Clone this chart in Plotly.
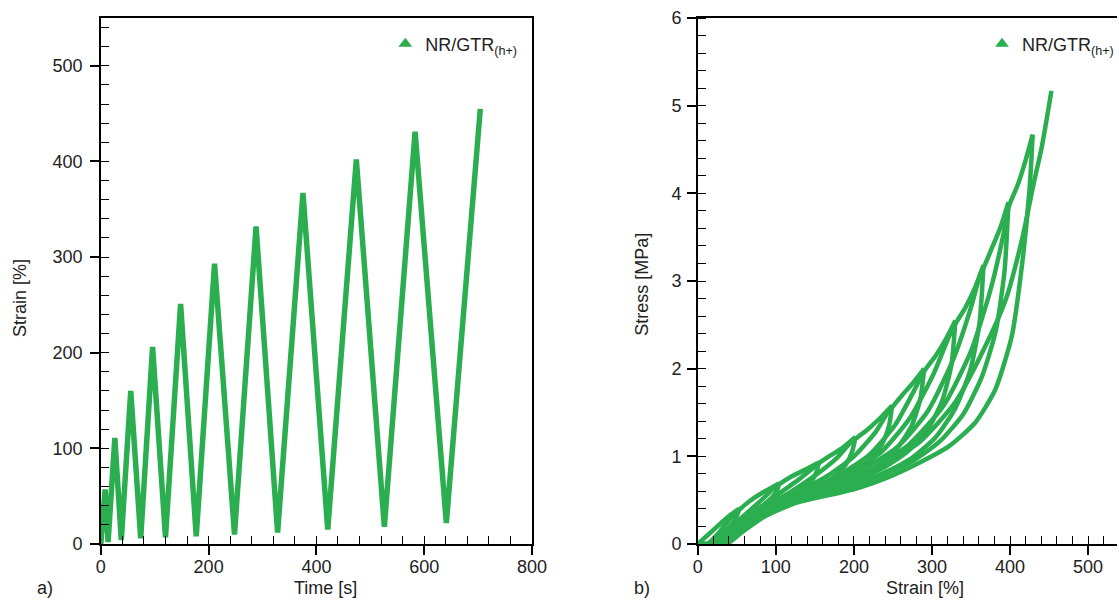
import plotly.graph_objects as go

GREEN = "#2bae4f"
FONT = "Arial, Liberation Sans, sans-serif"
W, H = 1119, 600

# ---------------- a) Strain vs time ----------------
time_s = [0, 8, 13.5, 26, 38, 55.5, 74, 96, 120, 148, 177, 211, 248, 288,
          328, 375, 421, 474, 526, 583, 641, 704]
strain_time_pct = [0, 57, 2, 111, 4, 160, 6, 206, 7, 251, 8, 293, 10, 332,
                   12, 367, 15, 402, 18, 431, 22, 455]

# ---------------- b) Stress vs strain (loading / unloading per cycle) -------
loading_strain = [
    [0, 10, 20, 30, 40, 53],
    [2, 12, 20, 30, 40, 48, 53, 65, 80, 92, 104],
    [4, 16, 28, 45, 65, 85, 98, 104, 120, 138, 155],
    [6, 20, 35, 55, 80, 105, 130, 148, 155, 170, 186, 202],
    [7, 23, 40, 62, 90, 120, 150, 178, 195, 202, 218, 234, 249],
    [8, 25, 43, 66, 95, 130, 165, 200, 228, 244, 249, 262, 276, 290],
    [10, 27, 45, 70, 100, 140, 180, 220, 253, 276, 290, 305, 318, 330],
    [12, 29, 48, 74, 105, 145, 190, 235, 272, 302, 322, 330, 343, 355, 366],
    [15, 31, 50, 78, 110, 155, 205, 255, 295, 327, 350, 362, 366, 377, 388, 398],
    [18, 34, 53, 82, 118, 165, 220, 270, 315, 350, 375, 392, 398, 410, 420, 429],
    [22, 37, 56, 85, 125, 175, 230, 285, 330, 368, 395, 416, 430, 440, 447, 453],
]
loading_stress = [
    [0, 0.08, 0.16, 0.24, 0.32, 0.40],
    [0, 0, 0.06, 0.16, 0.27, 0.35, 0.39, 0.48, 0.57, 0.63, 0.69],
    [0, 0, 0.08, 0.21, 0.37, 0.53, 0.64, 0.68, 0.77, 0.85, 0.93],
    [0, 0, 0.10, 0.25, 0.42, 0.58, 0.74, 0.87, 0.92, 1.01, 1.10, 1.22],
    [0, 0, 0.11, 0.27, 0.44, 0.60, 0.78, 0.98, 1.15, 1.20, 1.31, 1.44, 1.58],
    [0, 0, 0.11, 0.27, 0.44, 0.60, 0.77, 1.00, 1.28, 1.51, 1.56, 1.70, 1.84, 2.00],
    [0, 0, 0.11, 0.28, 0.44, 0.60, 0.78, 1.02, 1.36, 1.73, 1.97, 2.15, 2.34, 2.55],
    [0, 0, 0.12, 0.28, 0.45, 0.61, 0.79, 1.05, 1.44, 1.94, 2.37, 2.51, 2.70, 2.92, 3.18],
    [0, 0, 0.12, 0.29, 0.45, 0.62, 0.82, 1.10, 1.52, 2.10, 2.70, 3.08, 3.15, 3.38, 3.62, 3.90],
    [0, 0, 0.13, 0.30, 0.46, 0.63, 0.84, 1.13, 1.58, 2.20, 2.90, 3.55, 3.84, 4.10, 4.38, 4.67],
    [0, 0, 0.13, 0.31, 0.47, 0.64, 0.86, 1.17, 1.62, 2.25, 2.80, 3.50, 4.10, 4.50, 4.85, 5.17],
]
unloading_strain = [
    [53, 51, 47, 40, 30, 20, 12, 2],
    [104, 102, 97, 88, 75, 60, 45, 30, 16, 4],
    [155, 152, 145, 132, 115, 95, 75, 57, 40, 20, 6],
    [202, 198, 190, 175, 155, 130, 105, 80, 60, 42, 23, 7],
    [249, 245, 236, 220, 198, 170, 140, 110, 82, 60, 43, 25, 8],
    [290, 285, 274, 256, 232, 203, 170, 137, 105, 80, 58, 43, 27, 10],
    [330, 325, 313, 294, 268, 236, 200, 163, 130, 101, 78, 57, 42, 29, 12],
    [366, 361, 349, 330, 305, 274, 238, 200, 160, 127, 100, 78, 57, 43, 31, 15],
    [398, 393, 382, 364, 340, 310, 276, 240, 200, 160, 125, 99, 78, 57, 43, 34, 18],
    [429, 425, 415, 402, 381, 355, 321, 278, 249, 202, 159, 125, 99, 82, 61, 45, 37, 22],
]
unloading_stress = [
    [0.40, 0.34, 0.27, 0.19, 0.10, 0.03, 0, 0],
    [0.69, 0.62, 0.55, 0.47, 0.38, 0.27, 0.15, 0.05, 0, 0],
    [0.93, 0.82, 0.71, 0.61, 0.52, 0.43, 0.32, 0.19, 0.07, 0, 0],
    [1.22, 1.06, 0.91, 0.77, 0.66, 0.56, 0.46, 0.35, 0.22, 0.08, 0, 0],
    [1.58, 1.35, 1.14, 0.95, 0.80, 0.67, 0.57, 0.47, 0.35, 0.21, 0.07, 0, 0],
    [2.00, 1.65, 1.35, 1.10, 0.90, 0.75, 0.63, 0.53, 0.43, 0.33, 0.19, 0.06, 0, 0],
    [2.55, 2.05, 1.63, 1.30, 1.05, 0.86, 0.72, 0.61, 0.52, 0.43, 0.33, 0.18, 0.05, 0, 0],
    [3.18, 2.53, 1.98, 1.55, 1.22, 0.98, 0.81, 0.68, 0.58, 0.49, 0.41, 0.31, 0.17, 0.05, 0, 0],
    [3.90, 3.12, 2.44, 1.91, 1.48, 1.17, 0.95, 0.80, 0.67, 0.57, 0.48, 0.40, 0.31, 0.16, 0.04, 0, 0],
    [4.67, 4.05, 3.16, 2.36, 1.76, 1.38, 1.11, 0.90, 0.78, 0.63, 0.54, 0.47, 0.41, 0.35, 0.23, 0.09, 0, 0],
]

series_name = "NR/GTR<sub>(h+)</sub>"
x_ticks_a = [0, 200, 400, 600, 800]
y_ticks_a = [0, 100, 200, 300, 400, 500]
x_ticks_b = [0, 100, 200, 300, 400, 500]
y_ticks_b = [0, 1, 2, 3, 4, 5, 6]

fig = go.Figure()

# a) strain history
fig.add_trace(go.Scatter(x=time_s, y=strain_time_pct, mode="lines",
                         line=dict(color=GREEN, width=5.5), showlegend=False,
                         xaxis="x", yaxis="y"))
fig.add_trace(go.Scatter(x=[None], y=[None], mode="markers", name=series_name,
                         marker=dict(symbol="triangle-up", size=12, color=GREEN),
                         xaxis="x", yaxis="y", legend="legend"))

# b) hysteresis loops
for k in range(len(loading_strain)):
    fig.add_trace(go.Scatter(x=loading_strain[k], y=loading_stress[k], mode="lines",
                             line=dict(color=GREEN, width=4.5, shape="spline", smoothing=0.6),
                             showlegend=False, xaxis="x2", yaxis="y2"))
    if k < len(unloading_strain):
        fig.add_trace(go.Scatter(x=unloading_strain[k], y=unloading_stress[k], mode="lines",
                                 line=dict(color=GREEN, width=4.5, shape="spline", smoothing=0.6),
                                 showlegend=False, xaxis="x2", yaxis="y2"))
fig.add_trace(go.Scatter(x=[None], y=[None], mode="markers", name=series_name,
                         marker=dict(symbol="triangle-up", size=12, color=GREEN),
                         xaxis="x2", yaxis="y2", legend="legend2"))

ydom = [56 / H, 582 / H]
common = dict(showgrid=False, zeroline=False, showline=True, linecolor="black",
              linewidth=1.5, ticks="outside", ticklen=9, tickwidth=1.5,
              tickcolor="black", tickfont=dict(size=18, color="#222", family=FONT),
              fixedrange=True, automargin=False)
over = dict(showgrid=False, zeroline=False, showline=False, ticks="inside",
            ticklen=11, tickwidth=1.5, tickcolor="black", showticklabels=False,
            fixedrange=True, automargin=False)

fig.update_layout(
    template="none",
    width=W, height=H,
    margin=dict(l=0, r=0, t=0, b=0, pad=0),
    paper_bgcolor="white", plot_bgcolor="white",
    font=dict(family=FONT, size=18, color="#222"),
    xaxis=dict(domain=[101 / W, 533 / W], range=[0, 800], tickvals=x_ticks_a,
               anchor="y", mirror=True, ticklabelstandoff=-3,
               minor=dict(ticks="inside", ticklen=8, dtick=40, tick0=0,
                          tickcolor="black", tickwidth=1.2), **common),
    yaxis=dict(domain=ydom, range=[0, 550], tickvals=y_ticks_a, anchor="x",
               mirror=True, ticklabelstandoff=4,
               minor=dict(ticks="inside", ticklen=8, dtick=20, tick0=0,
                          tickcolor="black", tickwidth=1.2), **common),
    xaxis2=dict(domain=[699 / W, 1], range=[0, 537], tickvals=x_ticks_b,
                anchor="y2", mirror=True, ticklabelstandoff=-3,
                minor=dict(ticks="inside", ticklen=8, dtick=20, tick0=0,
                           tickcolor="black", tickwidth=1.2), **common),
    yaxis2=dict(domain=ydom, range=[0, 6], tickvals=y_ticks_b, anchor="x2",
                mirror=False, ticklabelstandoff=2,
                minor=dict(ticks="inside", ticklen=8, dtick=0.2, tick0=0,
                           tickcolor="black", tickwidth=1.2), **common),
    xaxis3=dict(overlaying="x", anchor="y", range=[0, 800], tickvals=x_ticks_a, **over),
    yaxis3=dict(overlaying="y", anchor="x", range=[0, 550], tickvals=y_ticks_a, **over),
    xaxis4=dict(overlaying="x2", anchor="y2", range=[0, 537], tickvals=x_ticks_b, **over),
    yaxis4=dict(overlaying="y2", anchor="x2", range=[0, 6], tickvals=y_ticks_b, **over),
    legend=dict(x=386 / W, y=1 - 44 / H, xanchor="left", yanchor="middle",
                bgcolor="rgba(0,0,0,0)", font=dict(size=18, color="#222")),
    legend2=dict(x=984 / W, y=1 - 44 / H, xanchor="left", yanchor="middle",
                 bgcolor="rgba(0,0,0,0)", font=dict(size=18, color="#222")),
    annotations=[
        dict(text="Time [s]", x=326 / W, y=0, xref="paper", yref="paper",
             showarrow=False, xanchor="center", yanchor="bottom", font=dict(size=18)),
        dict(text="Strain [%]", x=927 / W, y=0, xref="paper", yref="paper",
             showarrow=False, xanchor="center", yanchor="bottom", font=dict(size=18)),
        dict(text="a)", x=45 / W, y=0, xref="paper", yref="paper",
             showarrow=False, xanchor="center", yanchor="bottom", font=dict(size=18)),
        dict(text="b)", x=643 / W, y=0, xref="paper", yref="paper",
             showarrow=False, xanchor="center", yanchor="bottom", font=dict(size=18)),
        dict(text="Strain [%]", x=20 / W, y=1 - 298 / H, xref="paper", yref="paper",
             showarrow=False, textangle=-90, xanchor="center", yanchor="middle",
             font=dict(size=18)),
        dict(text="Stress [MPa]", x=643 / W, y=1 - 284 / H, xref="paper", yref="paper",
             showarrow=False, textangle=-90, xanchor="center", yanchor="middle",
             font=dict(size=18)),
    ],
)

fig.write_html("out.html")
